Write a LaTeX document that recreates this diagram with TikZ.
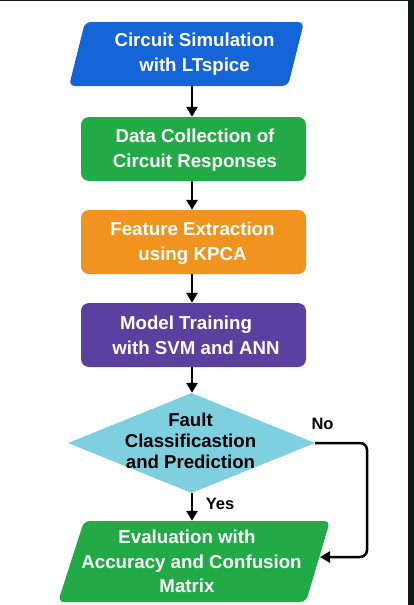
\documentclass[tikz,border=0pt]{standalone}
\usepackage{fontspec}
\setmainfont{Liberation Sans}
\usetikzlibrary{shapes.geometric,arrows.meta,calc}
\definecolor{frame}{RGB}{10,26,20}
\definecolor{cblue}{RGB}{22,101,216}
\definecolor{cgreen}{RGB}{34,170,70}
\definecolor{corange}{RGB}{241,148,31}
\definecolor{cpurple}{RGB}{92,64,160}
\definecolor{ccyan}{RGB}{126,208,224}
\tikzset{
  boxshape/.style={rectangle, rounded corners=8pt, minimum width=225pt, minimum height=64pt, inner sep=0pt},
  parafill/.style={rounded corners=6pt},
  decshape/.style={diamond, fill=ccyan, minimum width=247pt, minimum height=100pt, inner sep=0pt},
  wtext/.style={text=white, align=center, font=\bfseries\fontsize{18.7}{25}\selectfont, inner sep=0pt},
  btext/.style={text=black, align=center, font=\bfseries\fontsize{18.6}{21}\selectfont, inner sep=0pt},
  lbl/.style={text=black, font=\bfseries\fontsize{16.5}{20}\selectfont, inner sep=0pt},
  flow/.style={line width=2.5pt, draw=black, -{Triangle[length=10pt,width=11pt]}},
}
\begin{document}
\begin{tikzpicture}[x=1pt,y=-1pt]
\useasboundingbox (0,0) rectangle (414,605);
\fill[white] (0,0) rectangle (414,605);
\fill[frame] (0,0) rectangle (414,1.2);
\fill[frame] (408,0) rectangle (414,605);

% parallelogram 1
\fill[cblue, parafill] (85,22) -- (304,22) -- (288,86) -- (69,86) -- cycle;
\node[wtext, minimum height=64pt] (sim) at (194.5,54) {Circuit Simulation\\with LTspice};

\node[boxshape, fill=cgreen] (data) at (193.5,149) {};
\node[wtext] (datat) at (195,150) {Data Collection of\\Circuit Responses};

\node[boxshape, fill=corange] (feat) at (193.5,242) {};
\node[wtext] (featt) at (192.5,243) {Feature Extraction\\using KPCA};

\node[boxshape, fill=cpurple] (model) at (193.5,335) {};
\node[wtext] (modelt) at (196,335.5) {Model Training\hspace*{20pt}\\with SVM and ANN};

\node[decshape] (dec) at (191.5,443) {};
\node[btext] (dect) at (190.5,441) {Fault\\Classificastion\\and Prediction};

% parallelogram 2
\fill[cgreen, parafill] (84,521) -- (330,521) -- (306,602) -- (58,602) -- cycle;
\node[wtext, font=\bfseries\fontsize{18.7}{24.5}\selectfont, minimum height=81pt] (eval) at (191.5,561.5) {Evaluation with\hspace*{9pt}\\Accuracy and Confusion\\Matrix\hspace*{9pt}};
\coordinate (evalin) at (320,557);

% connectors
\draw[flow] (sim.south -| 192,0) -- (data.north -| 192,0);
\draw[flow] (data.south -| 192,0) -- (feat.north -| 192,0);
\draw[flow] (feat.south -| 192,0) -- (model.north -| 192,0);
\draw[flow] (model.south -| 192,0) -- (dec.north -| 192,0);
\draw[flow] (dec.south -| 192,0) -- (eval.north -| 192,0);
\coordinate (turn) at (367,0);
\draw[flow, rounded corners=7pt] (dec.east) -- (dec.east -| turn) -- (turn |- evalin) -- (evalin);

\node[lbl] (yes) at (220,504) {Yes};
\node[lbl] (no) at (322.5,424) {No};
\end{tikzpicture}
\end{document}
